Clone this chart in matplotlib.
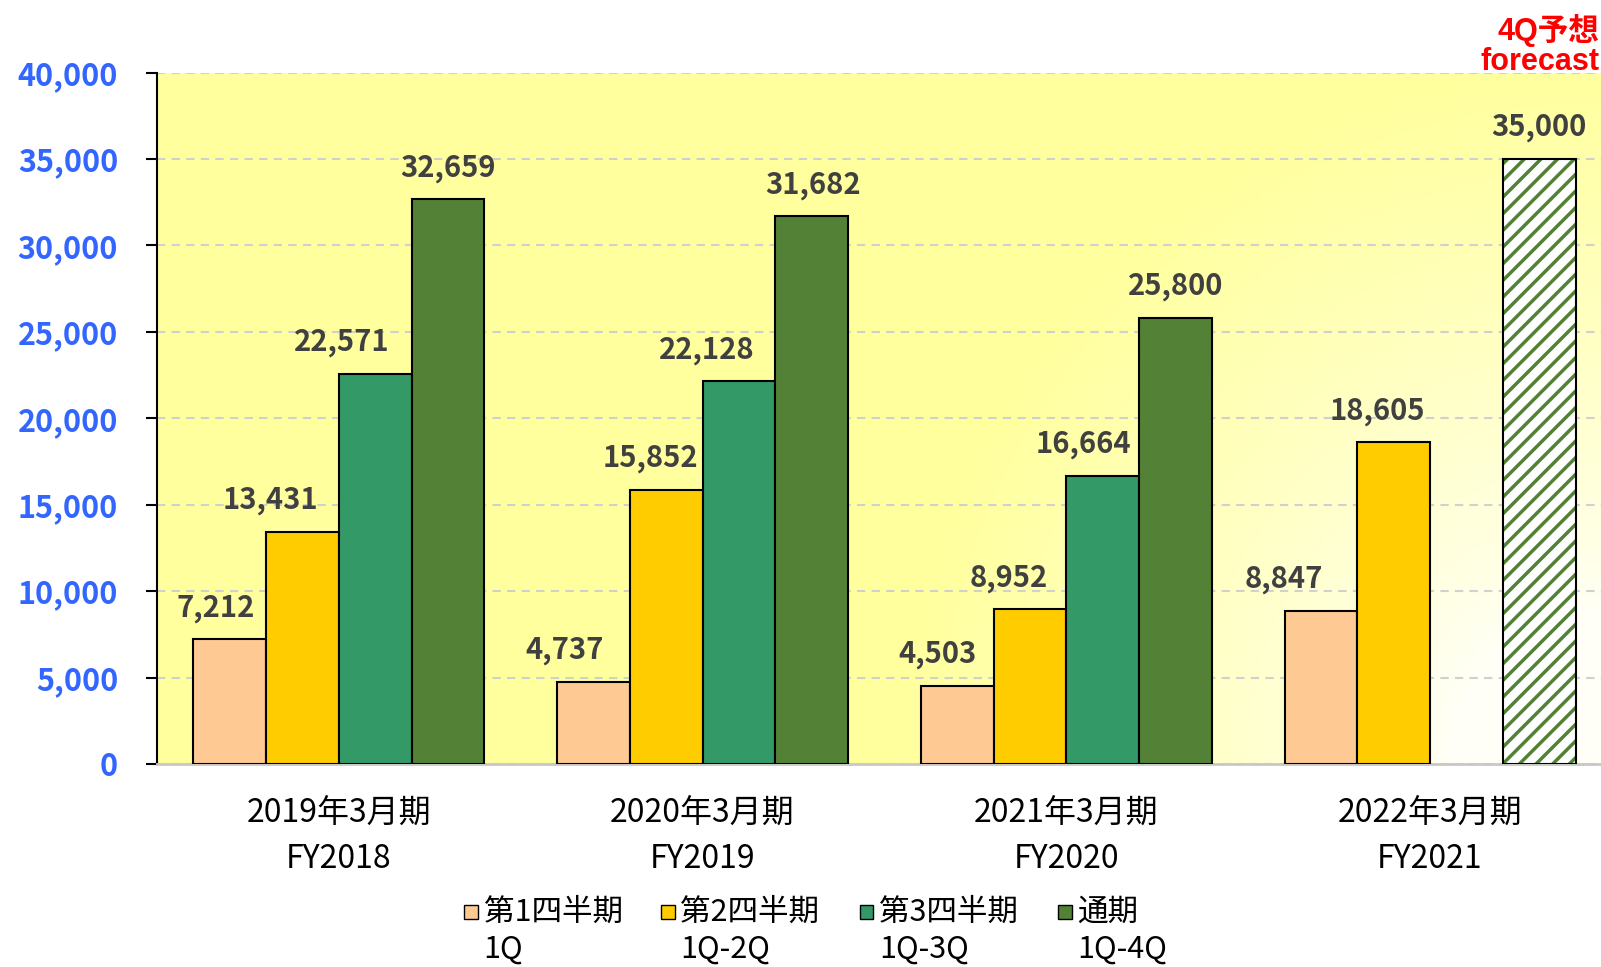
import numpy as np
import matplotlib.pyplot as plt
from matplotlib.patches import Rectangle

plt.rcParams['font.family'] = ['Noto Sans CJK JP', 'DejaVu Sans']
plt.rcParams['hatch.linewidth'] = 2.5

# data
periods = ['2019年3月期\nFY2018', '2020年3月期\nFY2019', '2021年3月期\nFY2020', '2022年3月期\nFY2021']
series_names = ['第1四半期', '第2四半期', '第3四半期', '通期']
series_sub = ['1Q', '1Q-2Q', '1Q-3Q', '1Q-4Q']
q1 = [7212, 4737, 4503, 8847]
q2 = [13431, 15852, 8952, 18605]
q3 = [22571, 22128, 16664, np.nan]
q4 = [32659, 31682, 25800, np.nan]
forecast = [np.nan, np.nan, np.nan, 35000]
colors = ['#FFC993', '#FFCC00', '#339966', '#538135']

# horizontal nudges of the value labels (points), as placed in the original
label_dx = [[-10, -23, -24, 0],
            [-21, -11, -23, 1],
            [-14, -15, -14, 0],
            [-27, -12, 0, 0]]

fig = plt.figure(figsize=(16.01, 9.67), dpi=100)
ax = fig.add_axes([0.098, 0.210, 0.902, 0.715])

x = np.arange(len(periods))
w = 0.2
xmin, xmax = -0.5, 3.47
ax.set_xlim(xmin, xmax)
ax.set_ylim(0, 40000)

# background gradient: yellow fading to white toward the lower right
W, H = 1444, 692
u = np.linspace(0, 1, 400)
v = np.linspace(1, 0, 200)
U, V = np.meshgrid(u, v)
d = np.hypot((1 - U) * W, V * H)
t = np.clip((d - 150) / 550, 0, 1) ** 0.8
yellow = np.array([1.0, 1.0, 0.62])
white = np.array([1.0, 1.0, 0.97])
img = white + (yellow - white) * t[..., None]
ax.imshow(img, extent=[xmin, xmax, 0, 40000], aspect='auto', zorder=0)

ax.grid(axis='y', color='#D0D0D0', linestyle=(0, (4, 3)), linewidth=1.5, zorder=1)


def add_label(px, val, dx):
    ax.annotate(f'{val:,.0f}', (px, val), xytext=(dx, 12), textcoords='offset points',
                ha='center', va='bottom', fontsize=21, fontweight='bold',
                color='#404040', zorder=4)


for i, vals in enumerate([q1, q2, q3, q4]):
    pos = x + (i - 1.5) * w
    ax.bar(pos, vals, w, color=colors[i], edgecolor='black', linewidth=1.5, zorder=3)
    for g, (px, val) in enumerate(zip(pos, vals)):
        if not np.isnan(val):
            add_label(px, val, label_dx[g][i])

# forecast bar: white with green stripes and black outline
fpos = x + 1.5 * w
ax.bar(fpos, forecast, w, color='white', edgecolor='#538135', hatch='//', linewidth=0, zorder=3)
ax.bar(fpos, forecast, w, fill=False, edgecolor='black', linewidth=1.5, zorder=3)
for px, val in zip(fpos, forecast):
    if not np.isnan(val):
        add_label(px, val, 0)

ax.set_yticks(np.arange(0, 40001, 5000))
ax.set_yticklabels([f'{v:,}' for v in range(0, 40001, 5000)])
ax.tick_params(axis='y', colors='black', labelcolor='#3366FF', labelsize=22,
               length=8, width=1.5, direction='out', pad=20)
for lab in ax.get_yticklabels():
    lab.set_fontweight('bold')
ax.set_xticks(x)
ax.set_xticklabels(periods, fontsize=23, linespacing=1.55)
ax.tick_params(axis='x', length=0, pad=24)

for s in ['top', 'right']:
    ax.spines[s].set_visible(False)
ax.spines['left'].set_linewidth(1.5)
ax.spines['bottom'].set_color('#C8C8C8')
ax.spines['bottom'].set_linewidth(2)

# forecast note
fig.text(0.999, 0.953, '4Q予想\nforecast', ha='right', va='center', fontsize=22,
         fontweight='bold', color='red', linespacing=1.0,
         family=['Liberation Sans', 'Noto Sans CJK JP'])

# legend
lx = [0.290, 0.413, 0.537, 0.661]
for i in range(4):
    fig.add_artist(Rectangle((lx[i], 0.050), 0.0085, 0.014, transform=fig.transFigure,
                             facecolor=colors[i], edgecolor='black', linewidth=1))
    fig.text(lx[i] + 0.012, 0.057, series_names[i], ha='left', va='center', fontsize=22)
    fig.text(lx[i] + 0.012, 0.018, series_sub[i], ha='left', va='center', fontsize=22)

fig.savefig('out.png', dpi=100)
